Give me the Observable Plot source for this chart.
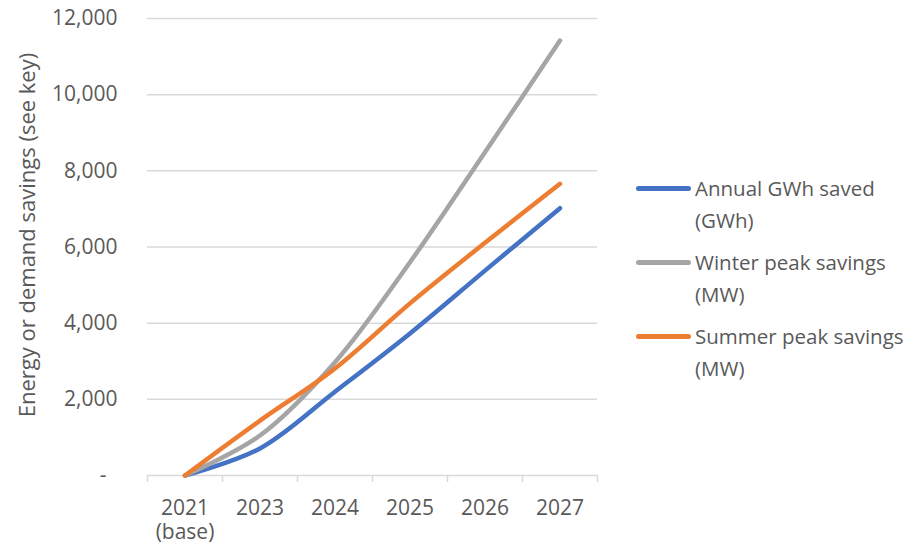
<!DOCTYPE html>
<html>
<head>
<meta charset="utf-8">
<script src="https://cdn.jsdelivr.net/npm/d3@7"></script>
<script src="https://cdn.jsdelivr.net/npm/@observablehq/plot@0.6"></script>
<style>
  html, body { margin: 0; padding: 0; background: #fff; }
  #wrap { position: relative; width: 907px; height: 548px; font-family: "Open Sans", sans-serif; }
  #legend { position: absolute; left: 636px; top: 172px; color: #595959; font-size: 20.5px; }
  .item { display: flex; align-items: flex-start; margin-bottom: 10px; }
  .sw { width: 55px; height: 5px; border-radius: 3px; margin-top: 14px; margin-right: 4px; flex: none; }
  .lbl { line-height: 32px; }
</style>
</head>
<body>
<div id="wrap"></div>
<script>
const categories = ["2021\n(base)", "2023", "2024", "2025", "2026", "2027"];
const annualGWh = [0, 710, 2200, 3730, 5380, 7020];
const winterMW  = [0, 1050, 2975, 5600, 8490, 11420];
const summerMW  = [0, 1440, 2810, 4520, 6110, 7660];
const seriesNames = ["Annual GWh saved (GWh)", "Winter peak savings (MW)", "Summer peak savings (MW)"];
const legendLines = [["Annual GWh saved", "(GWh)"], ["Winter peak savings", "(MW)"], ["Summer peak savings", "(MW)"]];
const seriesColors = ["#4472C4", "#A5A5A5", "#ED7D31"];
const yTicks = [0, 2000, 4000, 6000, 8000, 10000, 12000];
const yTitle = "Energy or demand savings (see key)";

const seriesValues = [annualGWh, winterMW, summerMW];
const data = seriesValues.flatMap((vals, s) =>
  vals.map((v, i) => ({series: seriesNames[s], i, value: v})));
const idx = categories.map((_, i) => i);
const bounds = d3.range(-0.5, categories.length, 1);

const textColor = "#595959";
const grid = "#D9D9D9";

const chart = Plot.plot({
  width: 907,
  height: 548,
  marginLeft: 147,
  marginRight: 310,
  marginTop: 18,
  marginBottom: 73,
  style: {fontFamily: "Open Sans, sans-serif", fontSize: "21px", color: textColor, background: "#fff"},
  x: {type: "linear", domain: [-0.5, categories.length - 0.5], axis: null, label: null},
  y: {domain: [0, 12000], axis: null, label: null},
  color: {domain: seriesNames, range: seriesColors},
  marks: [
    Plot.gridY(yTicks, {stroke: grid, strokeOpacity: 1, strokeWidth: 1.5}),
    Plot.axisX(bounds, {tickSize: 7, tickFormat: () => "", stroke: grid, strokeOpacity: 1, strokeWidth: 1.5, label: null}),
    Plot.axisX(idx, {tickSize: 0, tickPadding: 22, tickFormat: i => categories[i], fill: textColor, fontSize: 21, lineHeight: 1.15, label: null}),
    Plot.axisY(yTicks, {tickSize: 0, tickPadding: 30, fill: textColor, fontSize: 21, label: null,
      tickFormat: d => d === 0 ? "-\u00a0\u00a0" : d3.format(",")(d)}),
    Plot.text([yTitle], {frameAnchor: "left", rotate: -90, dx: -120, dy: -12, fill: textColor, fontSize: 22, textAnchor: "middle"}),
    Plot.line(data, {x: "i", y: "value", z: "series", stroke: "series", strokeWidth: 4.5, curve: "catmull-rom", strokeLinecap: "round", strokeLinejoin: "round"})
  ]
});

const wrap = document.getElementById("wrap");
wrap.appendChild(chart);

const legend = document.createElement("div");
legend.id = "legend";
legendLines.forEach((lines, s) => {
  const item = document.createElement("div");
  item.className = "item";
  const sw = document.createElement("div");
  sw.className = "sw";
  sw.style.background = seriesColors[s];
  const lbl = document.createElement("div");
  lbl.className = "lbl";
  lbl.innerHTML = lines.join("<br>");
  item.appendChild(sw);
  item.appendChild(lbl);
  legend.appendChild(item);
});
wrap.appendChild(legend);
</script>
</body>
</html>
